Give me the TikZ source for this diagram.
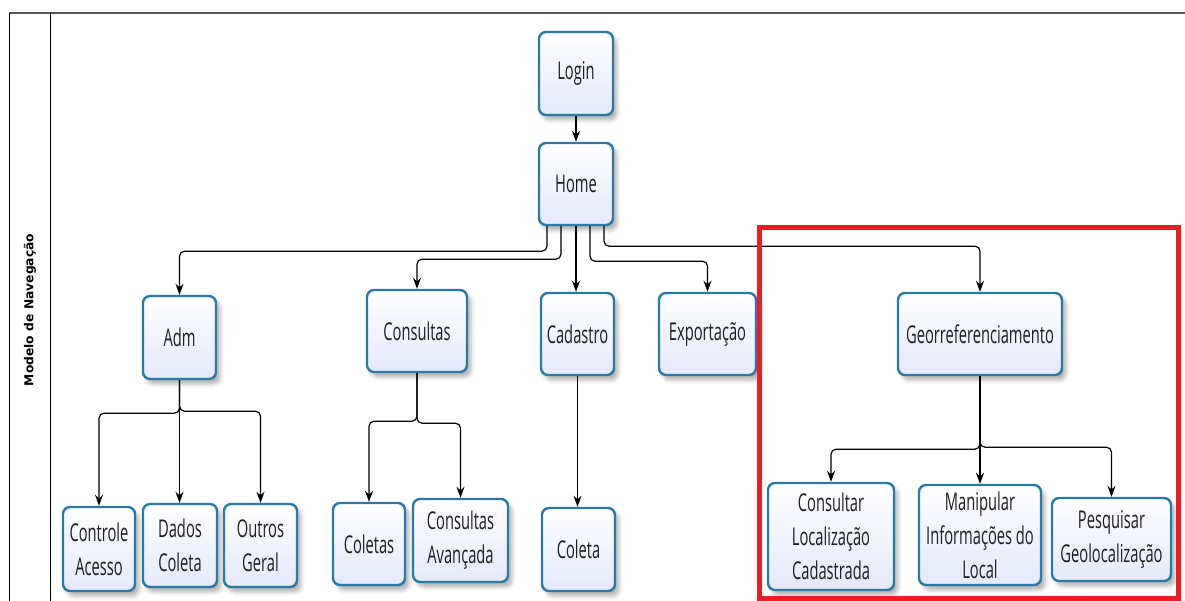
\documentclass[tikz,border=0pt]{standalone}
\usepackage{fontspec}
\setmainfont{Open Sans}
\newfontfamily\boxfont[FakeStretch=0.6]{Open Sans}
\newfontfamily\poolfont{DejaVu Sans}
\usetikzlibrary{arrows.meta,shadows.blur}
\definecolor{boxedge}{RGB}{40,122,168}
\definecolor{boxfill}{RGB}{228,232,250}
\definecolor{textgray}{RGB}{30,30,30}
\definecolor{framegray}{RGB}{85,85,85}
\definecolor{markred}{RGB}{237,28,36}
\begin{document}
\begin{tikzpicture}[x=1pt,y=-1pt,
  navbox/.style={draw=boxedge, line width=2.4pt, rounded corners=7pt,
    top color=white, bottom color=boxfill,
    font=\boxfont\fontsize{24.5}{34}\selectfont, text=textgray,
    align=center, inner sep=2pt,
    blur shadow={shadow xshift=4pt, shadow yshift=-5pt,
      shadow blur radius=4pt, shadow opacity=30}},
  link/.style={draw=black, line width=1.2pt, rounded corners=5pt,
    -{Stealth[length=11pt,width=8pt]}}]
\useasboundingbox (0,0) rectangle (1185,601);

% swimlane frame
\draw[framegray, line width=2pt] (9,13) -- (1185,13);
\draw[black, line width=0.9pt] (9,13) -- (9,601);
\draw[black, line width=0.9pt] (50,13) -- (50,601);
\node[rotate=90, font=\poolfont\bfseries\fontsize{12.3}{15}\selectfont] (pool) at (30,310) {Modelo de Navegação};

% screens
\node[navbox, minimum width=74pt, minimum height=83pt] (login) at (576,73.5) {Login};
\node[navbox, minimum width=74pt, minimum height=82pt] (home) at (576,184) {Home};

\node[navbox, minimum width=73pt, minimum height=83pt] (adm) at (179.5,337.5) {Adm};
\node[navbox, minimum width=100pt, minimum height=82pt] (consultas) at (417,331) {Consultas};
\node[navbox, minimum width=73pt, minimum height=82pt] (cadastro) at (577.5,334) {Cadastro};
\node[navbox, minimum width=97pt, minimum height=82pt] (exportacao) at (707.5,334) {Exportação};
\node[navbox, minimum width=164pt, minimum height=82pt] (geo) at (980,334) {Georreferenciamento};

\node[navbox, minimum width=72pt, minimum height=84pt] (controle) at (99,549) {Controle\\Acesso};
\node[navbox, minimum width=74pt, minimum height=83pt] (dados) at (180,545.5) {Dados\\Coleta};
\node[navbox, minimum width=73pt, minimum height=83pt] (outros) at (260.5,545.5) {Outros\\Geral};

\node[navbox, minimum width=72pt, minimum height=82pt] (coletas) at (369,544) {Coletas};
\node[navbox, minimum width=95pt, minimum height=83pt] (avancada) at (460.5,540.5) {Consultas\\Avançada};

\node[navbox, minimum width=73pt, minimum height=83pt] (coleta) at (578.5,549.5) {Coleta};

\node[navbox, minimum width=126pt, minimum height=107pt] (consultar) at (831,536.5) {Consultar\\Localização\\Cadastrada};
\node[navbox, minimum width=122pt, minimum height=100pt] (manipular) at (980,535) {Manipular\\Informações do\\Local};
\node[navbox, minimum width=119pt, minimum height=83pt] (pesquisar) at (1111.5,539.5) {Pesquisar\\Geolocalização};

% navigation links
\draw[link] (login.south) -- (home.north);

\draw[link] ([xshift=-29pt]home.south) -- ++(0,25) -| (adm.north);
\draw[link] ([xshift=-15pt]home.south) -- ++(0,33) -| (consultas.north);
\draw[link] (home.south) -- (home.south |- cadastro.north);
\draw[link] ([xshift=14pt]home.south) -- ++(0,35) -| (exportacao.north);
\draw[link] ([xshift=28pt]home.south) -- ++(0,20) -| (geo.north);

\draw[link] (adm.south) -- ++(0,33) -| (controle.north);
\draw[link] (adm.south) -- (adm.south |- dados.north);
\draw[link] (adm.south) -- ++(0,31) -| (outros.north);

\draw[link] (consultas.south) -- ++(0,48) -| (coletas.north);
\draw[link] (consultas.south) -- ++(0,50) -| (avancada.north);

\draw[link] (cadastro.south) -- (cadastro.south |- coleta.north);

\draw[link] (geo.south) -- ++(0,73) -| (consultar.north);
\draw[link] (geo.south) -- (geo.south |- manipular.north);
\draw[link] (geo.south) -- ++(0,71) -| (pesquisar.north);

% highlighted module
\draw[markred, line width=5pt] (759,228) rectangle (1178,598);
\end{tikzpicture}
\end{document}
